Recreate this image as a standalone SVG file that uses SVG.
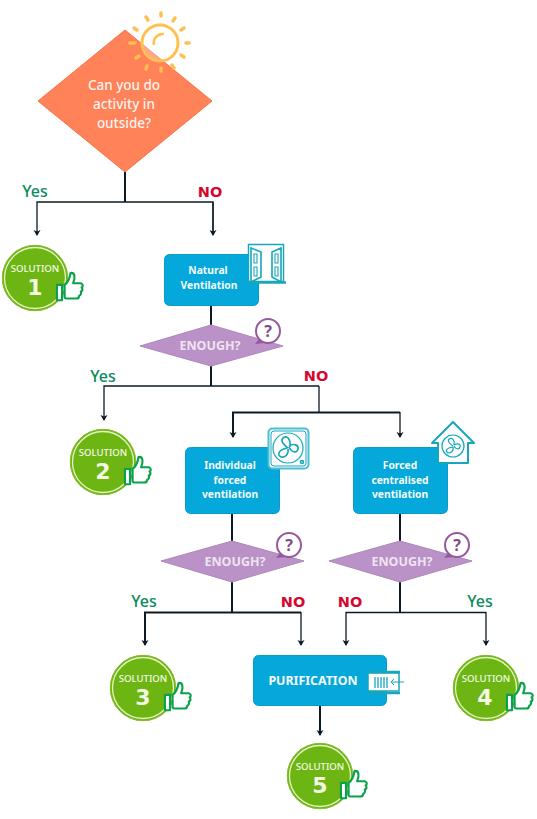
<svg xmlns="http://www.w3.org/2000/svg" xmlns:xlink="http://www.w3.org/1999/xlink" width="537" height="819" viewBox="0 0 537 819">
<style>
text{font-family:"Noto Sans","Open Sans","DejaVu Sans",sans-serif;text-anchor:middle}
.lbl{font-size:10.300px;font-weight:700;fill:#f4fbfd}
.en{font-size:12.500px;font-weight:700;fill:#eee4f1}
.sol{font-size:9.600px;font-weight:500;fill:#f6fbe8}
.num{font-family:"DejaVu Sans",sans-serif;font-size:22px;font-weight:700;fill:#f4f9e4}
.yes{font-size:16px;font-weight:500;fill:#0b8a5c}
.no{font-family:"DejaVu Sans",sans-serif;font-size:14.500px;font-weight:700;fill:#d5062f}
.box{fill:#04a8da;stroke:#0a9cc8;stroke-width:1}
.dia{fill:#bb92c7;stroke:#ad86bb;stroke-width:1}
.c{fill:none;stroke:#0c1a26;stroke-width:1.300}
.c2{fill:none;stroke:#0c1a26;stroke-width:2}
.ic{fill:none;stroke:#17a6bb;stroke-width:1.600}
</style>
<defs>
<marker id="a" markerWidth="8" markerHeight="8" refX="5" refY="4" orient="auto" markerUnits="userSpaceOnUse"><path d="M0 0.500L6 4L0 7.500L1.500 4Z" fill="#0c1a26"/></marker>
<g id="badge">
<circle r="33" fill="#6cb512"/><circle r="30.500" fill="none" stroke="#e6f3c4" stroke-width="1.300"/><circle r="32.700" fill="none" stroke="#8dbb30" stroke-width="1"/>
</g>
<g id="thumb">
<path transform="scale(.85)" d="M-13 -6h6v18h-6zM-4 -6c4-3 6-7 7-14c5-1 6 5 3 12h9c3 1 3 4 1 5c2 2 1 4-1 5c1 2 0 4-2 5c0 2-1 3-3 3h-12c-1 0-2-1-2-2z" fill="#fff" stroke="#09a24b" stroke-width="2.500" stroke-linejoin="round"/>
</g>
<g id="bubble">
<circle r="12" fill="#fff" stroke="#96599f" stroke-width="2"/><path d="M-9 8L-13 13L-3 12Z" fill="#96599f"/>
<text y="5.500" style="font-size:16px;font-weight:700;fill:#7f4a8a">?</text>
</g>
</defs>

<g id="connectors">
<path class="c2" d="M125 172V202"/>
<path class="c" d="M213 235V202H37V235" marker-end="url(#a)"/>
<path class="c" d="M213 202V235" marker-end="url(#a)"/>
<path class="c2" d="M211 306V325M211 366V386"/>
<path class="c" d="M319 386H104V420" marker-end="url(#a)"/>
<path class="c" d="M319 386V412"/>
<path class="c2" d="M400 412.500H233V437" marker-end="url(#a)"/>
<path class="c" d="M400 412V437" marker-end="url(#a)"/>
<path class="c2" d="M232 514V541M232 582V612M400 514V541M400 582V612"/>
<path class="c2" d="M301 612.500H145V645" marker-end="url(#a)"/>
<path class="c" d="M301 612V645" marker-end="url(#a)"/>
<path class="c" d="M486 612.500H346V645" marker-end="url(#a)"/>
<path class="c" d="M486 612V645" marker-end="url(#a)"/>
<path class="c2" d="M320 706V735" marker-end="url(#a)"/>
</g>

<g id="start">
<path d="M125 30L212 101L125 172L38 101Z" fill="#ff8259" stroke="#f8744a" stroke-width="1"/>
<g fill="none" stroke="#fec04f">
<circle cx="160" cy="43" r="18" stroke-width="3" fill="#fff" fill-opacity=".3"/>
<path d="M164 34a9 9 0 0 0-10 11" stroke-width="2.500"/>
<path stroke-width="3.500" stroke-linecap="round" d="M161 13v3M146 17l2 3M134 28l3 2M130 43h5M136 58l3-2M146 69l1-3M161 71v-3M174 68l-2-3M184 57l-3-2M189 43h-3M184 28l-3 2M175 18l-2 3"/>
</g>
<text x="124" y="90" style="font-size:13.500px;font-weight:500;fill:#fdf3ee">Can you do</text>
<text x="124" y="109" style="font-size:13.500px;font-weight:500;fill:#fdf3ee">activity in</text>
<text x="124" y="128" style="font-size:13.500px;font-weight:500;fill:#fdf3ee">outside?</text>
</g>
<text x="35" y="197" class="yes">Yes</text>
<text x="210" y="197" class="no">NO</text>

<g id="solution1"><use xlink:href="#badge" x="35" y="278"/><text x="35" y="272" class="sol">SOLUTION</text><text x="35" y="295" class="num">1</text><use xlink:href="#thumb" x="68" y="290"/></g>

<g id="natural">
<rect class="box" x="164.500" y="254.500" width="94" height="51" rx="5"/>
<text x="208" y="274" class="lbl">Natural</text><text x="209" y="289" class="lbl">Ventilation</text>
<rect x="248.500" y="244.500" width="35" height="37" fill="#fff" stroke="#17a6bb" stroke-width="1.500"/>
<path class="ic" d="M251 248L261 252V277L251 282ZM281 248L272 252V277L281 282Z" fill="#fff"/>
<path class="ic" style="stroke-width:1.100" d="M254 254h3v9h-3zM254 267h3v9h-3zM275 254h3v9h-3zM275 267h3v9h-3z"/>
<path d="M247 282.500h39" stroke="#17a6bb" stroke-width="2.500"/>
</g>

<g id="enough1">
<path class="dia" d="M211 325L283 346L211 366L140 346Z"/>
<text x="210" y="350" class="en">ENOUGH?</text>
<use xlink:href="#bubble" x="268" y="331"/>
</g>
<text x="103" y="382" class="yes">Yes</text>
<text x="316" y="381" class="no">NO</text>

<g id="solution2"><use xlink:href="#badge" x="103" y="462"/><text x="103" y="456" class="sol">SOLUTION</text><text x="103" y="479" class="num">2</text><use xlink:href="#thumb" x="136" y="474"/></g>

<g id="individual">
<rect class="box" x="185.500" y="447.500" width="94" height="66" rx="5"/>
<text x="230" y="469" class="lbl">Individual</text><text x="230" y="484" class="lbl">forced</text><text x="230" y="498" class="lbl">ventilation</text>
<rect x="268.500" y="428.500" width="40" height="40" rx="4" fill="#fff" stroke="#4cbdd2" stroke-width="2"/>
<rect x="271" y="431" width="35" height="35" rx="3" fill="none" stroke="#17a6bb" stroke-width="1"/>
<circle cx="288" cy="448" r="15" class="ic" style="stroke-width:1.200"/>
<path class="ic" d="M288 448c-4-3-8-7-5-10c4-3 8 1 7 9M289 446c5-3 10-1 9 3c-1 5-7 3-9-2M288 449c1 5-3 9-7 8c-4-2-3-7 6-9"/>
<circle cx="302" cy="462" r="1.500" class="ic"/>
</g>

<g id="centralised">
<rect class="box" x="353.500" y="447.500" width="94" height="66" rx="5"/>
<text x="400" y="469" class="lbl">Forced</text><text x="400" y="484" class="lbl">centralised</text><text x="400" y="498" class="lbl">ventilation</text>
<path d="M453 422L474 443H468V463H438V443H432Z" fill="#fff" stroke="#17a6bb" stroke-width="2" stroke-linejoin="round"/>
<circle cx="453" cy="446" r="11" class="ic" style="stroke-width:1.200"/>
<path class="ic" d="M453 446c-3-2-6-5-4-7c3-2 6 1 5 6M454 445c4-2 7-1 6 2c-1 3-5 2-6-1M453 447c1 4-2 6-5 6c-3-2-2-5 5-6" style="stroke-width:1.200"/>
</g>

<g id="enough2">
<path class="dia" d="M232 541L304 561L232 582L161 561Z"/>
<text x="235" y="566" class="en">ENOUGH?</text>
<use xlink:href="#bubble" x="289" y="545"/>
</g>
<g id="enough3">
<path class="dia" d="M400 541L472 561L400 582L329 561Z"/>
<text x="402" y="566" class="en">ENOUGH?</text>
<use xlink:href="#bubble" x="457" y="545"/>
</g>
<text x="144" y="607" class="yes">Yes</text>
<text x="293" y="607" class="no">NO</text>
<text x="350" y="607" class="no">NO</text>
<text x="480" y="607" class="yes">Yes</text>

<g id="solution3"><use xlink:href="#badge" x="143" y="688"/><text x="143" y="682" class="sol">SOLUTION</text><text x="143" y="705" class="num">3</text><use xlink:href="#thumb" x="176" y="700"/></g>

<g id="purification">
<rect class="box" x="253.500" y="655.500" width="133" height="50" rx="5"/>
<text x="313" y="685" style="font-size:12.400px;font-weight:700;fill:#f4fbfd">PURIFICATION</text>
<rect x="368" y="673" width="31" height="18" fill="#fff" stroke="#17a6bb" stroke-width="1.500"/>
<path d="M367 672h33M367 693h33" stroke="#17a6bb" stroke-width="2.500"/>
<path d="M375 677v11M378 677v11M381 677v11M384 677v11M387 677v11" stroke="#17a6bb" stroke-width="1.300"/>
<path d="M404 682H391M394 679l-3 3l3 3" fill="none" stroke="#17a6bb" stroke-width="1"/>
</g>

<g id="solution4"><use xlink:href="#badge" x="486" y="688"/><text x="486" y="682" class="sol">SOLUTION</text><text x="485" y="705" class="num">4</text><use xlink:href="#thumb" x="518" y="700"/></g>
<g id="solution5"><use xlink:href="#badge" x="320" y="776"/><text x="320" y="770" class="sol">SOLUTION</text><text x="320" y="793" class="num">5</text><use xlink:href="#thumb" x="352" y="788"/></g>
</svg>
